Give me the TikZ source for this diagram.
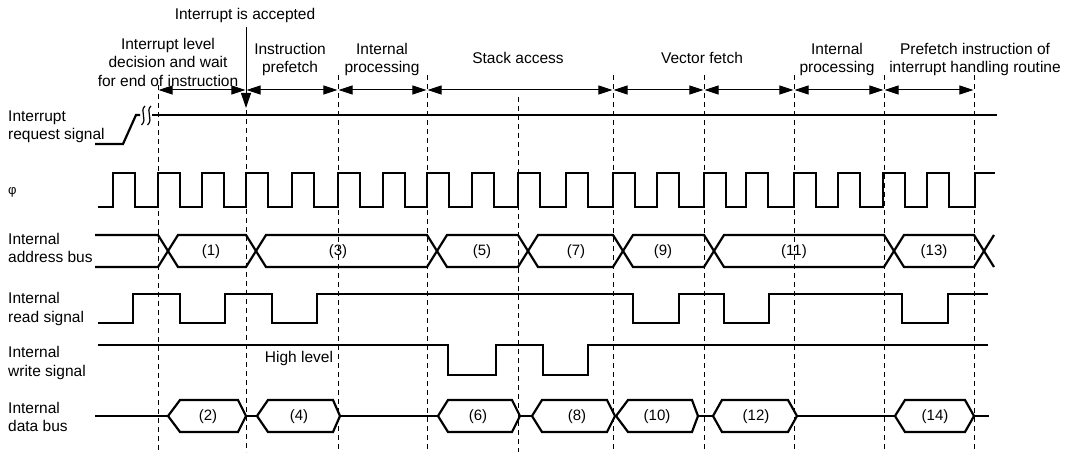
\documentclass[tikz,border=0pt]{standalone}
\usepackage{fontspec}
\setmainfont{Liberation Sans}
\usetikzlibrary{arrows.meta}
\begin{document}
\begin{tikzpicture}[x=1pt,y=-1pt,
  sig/.style={line width=2.2pt, line join=miter},
  gridline/.style={line width=0.9pt, dash pattern=on 5pt off 4pt},
  dim/.style={line width=1pt, {Triangle[length=14pt,width=9pt]}-{Triangle[length=14pt,width=9pt]}, shorten <=0.6pt, shorten >=0.6pt},
  lbl/.style={font=\fontsize{15.5}{18.5}\selectfont, align=center, inner sep=0pt},
  lft/.style={lbl, align=left, anchor=west},
  val/.style={font=\fontsize{15}{18}\selectfont, inner sep=0pt},
]
\useasboundingbox (0,0) rectangle (1073,454);

% dashed phase boundaries and arrow anchor points
\foreach \x/\t [count=\i from 0] in {158/85,246/110,338/75,427/75,518/97,613/75,704/75,794/75,884/75,974/75}{
  \coordinate (d\i) at (\x,\t);
  \coordinate (e\i) at (\x,452);
  \coordinate (a\i) at (\x,90);
  \draw[gridline] (d\i) -- (e\i);
}

% phase arrows
\draw[dim] (a0) -- (a1);
\draw[dim] (a1) -- (a2);
\draw[dim] (a2) -- (a3);
\draw[dim] (a3) -- (a5);
\draw[dim] (a5) -- (a6);
\draw[dim] (a6) -- (a7);
\draw[dim] (a7) -- (a8);
\draw[dim] (a8) -- (a9);

% interrupt accepted
\node[lbl] (acc) at (245,15) {Interrupt is accepted};
\coordinate (accTop) at (246,27);
\coordinate (accTip) at (246,108);
\draw[line width=1pt, -{Triangle[length=15pt,width=10pt]}] (accTop) -- (accTip);

% phase labels
\node[lbl] (p0) at (168,62) {Interrupt level\\decision and wait\\for end of instruction};
\node[lbl] (p1) at (290,59.5) {Instruction\\prefetch};
\node[lbl] (p2) at (382,59.5) {Internal\\processing};
\node[lbl] (p3) at (518,58) {Stack access};
\node[lbl] (p4) at (702,58) {Vector fetch};
\node[lbl] (p5) at (837,59.5) {Internal\\processing};
\node[lbl] (p6) at (975,59.5) {Prefetch instruction of\\interrupt handling routine};

% left signal names
\node[lft, font=\fontsize{13}{13}\selectfont] (n1) at (8,192) {φ};
\node[lft] (n0) at (8,127) {Interrupt\\request signal};
\node[lft] (n2) at (8,248) {Internal\\address bus};
\node[lft] (n3) at (8,309) {Internal\\read signal};
\node[lft] (n4) at (8,363) {Internal\\write signal};
\node[lft] (n5) at (8,417) {Internal\\data bus};

% interrupt request signal
\draw[sig] (95,144) -- (123,144) -- (136,115) -- (140,115);
\draw[line width=1.2pt] (145,106) .. controls (139,111) and (148,119) .. (141.5,125);
\draw[line width=1.2pt] (151,106) .. controls (145,111) and (154,119) .. (147.5,125);
\draw[sig] (152,115) -- (997,115);

% clock
\draw[sig] (98,207)
  \foreach \r in {113,158,202,246,292,338,383,427,472,518,566,613,657,704,746,794,838,883,927}{
    -- (\r,207) -- (\r,173) -- (\r+22,173) -- (\r+22,207)
  } -- (975,207) -- (975,173) -- (995,173);

% address bus
\draw[sig] (95,235) -- (158,235) -- (168,251) -- (158,267) -- (95,267);
\foreach \a/\b in {158/246,246/427,427/518,518/613,613/704,704/884,884/974}{
  \draw[sig] (\a+10,251) -- (\a+20,235) -- (\b,235) -- (\b+10,251) -- (\b,267) -- (\a+20,267) -- cycle;
}
\draw[sig] (984,251) -- (994,235);
\draw[sig] (984,251) -- (994,267);
\foreach \x/\t in {211/(1),338/(3),482/(5),576/(7),663/(9),794/(11),934/(13)}{
  \node[val] at (\x,252) {\t};
}

% read signal
\draw[sig] (98,323) -- (133,323) -- (133,294) -- (180,294) -- (180,323) -- (225,323) -- (225,294)
  -- (272,294) -- (272,323) -- (317,323) -- (317,294) -- (633,294) -- (633,323) -- (679,323)
  -- (679,294) -- (724,294) -- (724,323) -- (769,323) -- (769,294) -- (902,294) -- (902,323)
  -- (948,323) -- (948,294) -- (988,294);

% write signal
\draw[sig] (98,345) -- (448,345) -- (448,375) -- (496,375) -- (496,345) -- (543,345)
  -- (543,375) -- (588,375) -- (588,345) -- (988,345);
\node[lbl] (hl) at (299,358) {High level};

% data bus
\draw[sig] (95,416) -- (168,416);
\draw[sig] (246,416) -- (257,416);
\draw[sig] (340,416) -- (438,416);
\draw[sig] (520,416) -- (532,416);
\draw[sig] (698,416) -- (713,416);
\draw[sig] (797,416) -- (895,416);
\draw[sig] (974,416) -- (989,416);
\foreach \l/\p/\q/\r/\x/\t in {168/180/238/246/208/(2),257/268/333/340/299/(4),438/448/512/520/478/(6),
  532/542/607/615/577/(8),616/628/692/698/657/(10),713/722/788/797/756/(12),895/905/965/974/935/(14)}{
  \draw[sig] (\l,416) -- (\p,400) -- (\q,400) -- (\r,416) -- (\q,432) -- (\p,432) -- cycle;
  \node[val] at (\x,417) {\t};
}
\end{tikzpicture}
\end{document}
